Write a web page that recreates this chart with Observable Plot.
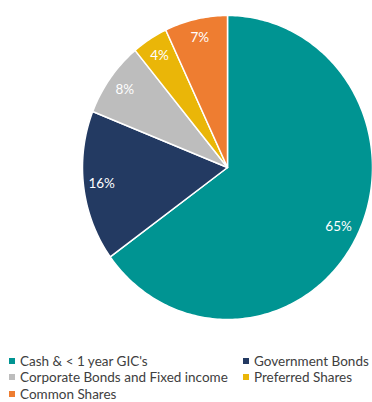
<!DOCTYPE html>
<html>
<head>
<meta charset="utf-8">
<script src="https://cdn.jsdelivr.net/npm/d3@7"></script>
<script src="https://cdn.jsdelivr.net/npm/@observablehq/plot@0.6"></script>
<style>
  body { margin: 0; background: #fff; width: 372px; height: 402px; overflow: hidden; font-family: Lato, sans-serif; }
  #legend { display: grid; grid-template-columns: 234px auto; padding-left: 9px; margin-top: 9px; font-size: 13.5px; color: #404040; line-height: 16.3px; }
  .item { display: flex; align-items: center; white-space: nowrap; }
  .sw { width: 6px; height: 6px; margin-right: 5px; flex: none; }
  svg { display: block; }
</style>
</head>
<body>
<div id="chart"></div>
<div id="legend"></div>
<script>
const categories = ["Cash & < 1 year GIC's", "Government Bonds", "Corporate Bonds and Fixed income", "Preferred Shares", "Common Shares"];
const values = [65, 16, 8, 4, 7];
const labels = ["65%", "16%", "8%", "4%", "7%"];
const colors = ["#009492", "#233a62", "#bdbdbd", "#eab608", "#ee7d31"];

const total = d3.sum(values);
const polys = [];
const textData = [];
let cum = 0;
categories.forEach((c, i) => {
  const a0 = cum / total * 2 * Math.PI;
  const a1 = (cum + values[i]) / total * 2 * Math.PI;
  polys.push({cat: c, x: 0, y: 0});
  const n = Math.max(2, Math.ceil((a1 - a0) / (Math.PI / 180)));
  for (let k = 0; k <= n; k++) {
    const a = a0 + (a1 - a0) * k / n;
    polys.push({cat: c, x: Math.sin(a), y: Math.cos(a)});
  }
  polys.push({cat: c, x: 0, y: 0});
  const am = (a0 + a1) / 2;
  const f = i === 0 ? 0.86 : 0.875;
  textData.push({label: labels[i], x: f * Math.sin(am), y: f * Math.cos(am)});
  cum += values[i];
});

const plot = Plot.plot({
  width: 372,
  height: 344,
  margin: 0,
  x: {domain: [-1, 1], range: [82, 372], axis: null},
  y: {domain: [-1, 1], range: [319, 15], axis: null},
  color: {domain: categories, range: colors},
  style: {fontFamily: "Lato, sans-serif", background: "white"},
  marks: [
    Plot.line(polys, {x: "x", y: "y", z: "cat", fill: "cat", stroke: "white", strokeWidth: 1.5, strokeLinejoin: "round"}),
    Plot.text(textData, {x: "x", y: "y", text: "label", fill: "white", fontSize: 13.5})
  ]
});
document.getElementById("chart").appendChild(plot);

const legend = document.getElementById("legend");
categories.forEach((c, i) => {
  const d = document.createElement("div");
  d.className = "item";
  const s = document.createElement("span");
  s.className = "sw";
  s.style.background = colors[i];
  d.appendChild(s);
  d.appendChild(document.createTextNode(c));
  legend.appendChild(d);
});
</script>
</body>
</html>
